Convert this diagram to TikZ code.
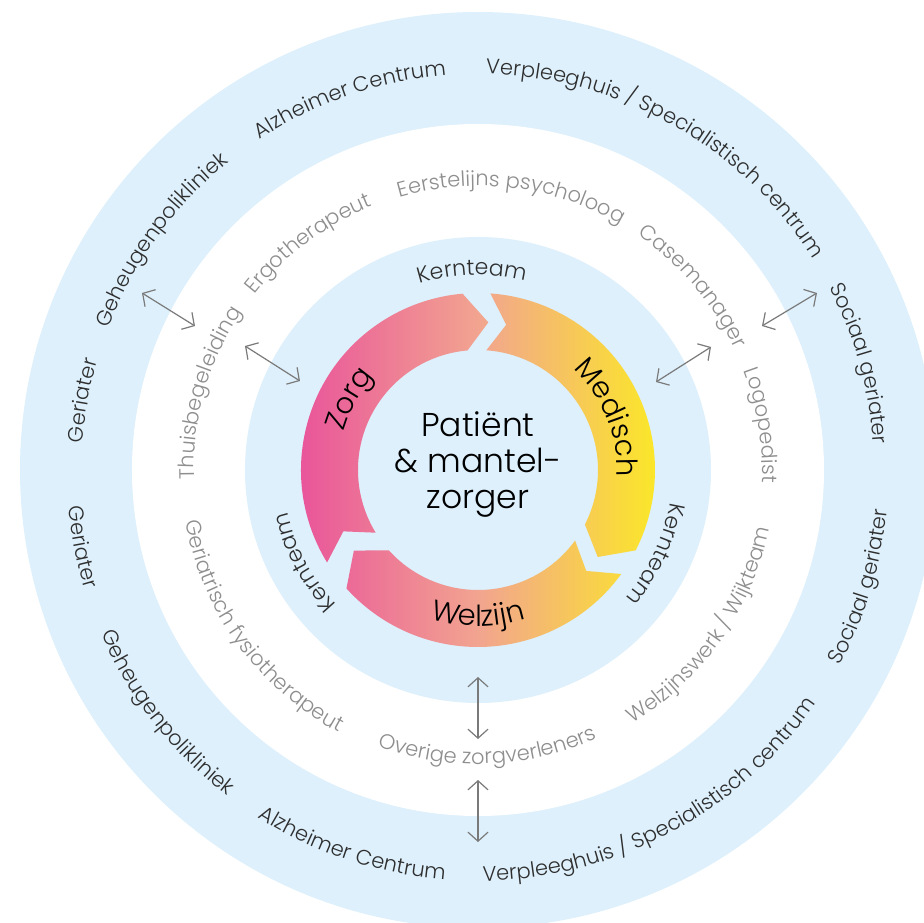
\documentclass[tikz,border=0pt]{standalone}
\usepackage{fontspec}
\setmainfont{Poppins Light}
\usetikzlibrary{arrows.meta,decorations.text}

\definecolor{ringblue}{HTML}{DDF0FC}
\definecolor{labeldark}{HTML}{2E2E2E}
\definecolor{labelgray}{HTML}{8E8E8E}
\definecolor{linegray}{HTML}{7A7A7A}
\definecolor{zorgpink}{HTML}{E9559A}
\definecolor{midsalmon}{HTML}{F2A490}
\definecolor{medischgeel}{HTML}{FBE729}

\newcommand{\ringfont}{\fontsize{21}{24}\selectfont}
\newcommand{\middenfont}{\fontsize{21}{24}\selectfont}
\newcommand{\kernfont}{\fontsize{22}{25}\selectfont}
\newcommand{\pijlfont}{\fontsize{29}{32}\selectfont}

% tekst langs cirkel: font, kleur, hoek, straal, tekst
\newcommand{\cwlabel}[5]{\path[decorate,decoration={text along path,text align=center,text color=#2,text={|#1|#5}}]
    (#3+60:#4) arc[start angle=#3+60,end angle=#3-60,radius=#4];}
\newcommand{\ccwlabel}[5]{\path[decorate,decoration={text along path,text align=center,text color=#2,text={|#1|#5}}]
    (#3-60:#4) arc[start angle=#3-60,end angle=#3+60,radius=#4];}
% pijl in de ring: van hoek #1 naar hoek #2 (met de klok mee)
\newcommand{\ringpijl}[2]{(#1:177) arc[start angle=#1,end angle=#2,radius=177] -- (#2-9:148) -- (#2:120)
    arc[start angle=#2,end angle=#1,radius=120] -- (#1-7:148) -- cycle}

\begin{document}
\begin{tikzpicture}[x=1pt,y=1pt,
    connector/.style={line width=1.2pt,draw=linegray,
        {Straight Barb[length=9pt,width=20pt]}-{Straight Barb[length=9pt,width=20pt]}}]
    \useasboundingbox (-478,-453) rectangle (446,470);
    \clip (-478,-453) rectangle (446,470);

    % ringen
    \fill[ringblue] (0,0) circle[radius=458];
    \fill[white] (0,0) circle[radius=346];
    \fill[ringblue] (0,0) circle[radius=233];

    % drie pijlen met kleurverloop
    \begin{scope}
        \clip \ringpijl{211.5}{95} \ringpijl{86}{-27} \ringpijl{-36}{-138};
        \shade[left color=zorgpink,right color=medischgeel,middle color=midsalmon] (-178,-178) rectangle (178,178);
    \end{scope}

    \node[align=center,font=\fontsize{33}{36}\selectfont,text=black] (patient) at (0,5) {Patiënt\\\& mantel-\\zorger};

    \cwlabel{\pijlfont}{black}{151}{140}{Zorg}
    \cwlabel{\pijlfont}{black}{22}{139}{Medisch}
    \ccwlabel{\pijlfont}{black}{270}{156}{Welzijn}

    % kernteam
    \cwlabel{\kernfont}{labeldark}{91.7}{195}{Kernteam}
    \cwlabel{\kernfont}{labeldark}{-25.3}{195}{Kernteam}
    \cwlabel{\kernfont}{labeldark}{208}{195}{Kernteam}

    % overige zorgverleners (witte ring)
    \cwlabel{\middenfont}{labelgray}{164}{284}{Thuisbegeleiding}
    \cwlabel{\middenfont}{labelgray}{126.8}{284}{Ergotherapeut}
    \cwlabel{\middenfont}{labelgray}{83}{284}{Eerstelijns psycholoog}
    \cwlabel{\middenfont}{labelgray}{40.5}{284}{Casemanager}
    \cwlabel{\middenfont}{labelgray}{9}{284}{Logopedist}
    \ccwlabel{\middenfont}{labelgray}{216}{297}{Geriatrisch fysiotherapeut}
    \ccwlabel{\middenfont}{labelgray}{272}{294}{Overige zorgverleners}
    \ccwlabel{\middenfont}{labelgray}{325}{297}{Welzijnswerk / Wijkteam}

    % buitenste ring
    \cwlabel{\ringfont}{labeldark}{170}{396}{Geriater}
    \cwlabel{\ringfont}{labeldark}{144}{396}{Geheugenpolikliniek}
    \cwlabel{\ringfont}{labeldark}{109}{396}{Alzheimer Centrum}
    \cwlabel{\ringfont}{labeldark}{60.5}{396}{Verpleeghuis / Specialistisch centrum}
    \cwlabel{\ringfont}{labeldark}{15.6}{396}{Sociaal geriater}
    \ccwlabel{\ringfont}{labeldark}{191}{411}{Geriater}
    \ccwlabel{\ringfont}{labeldark}{218}{411}{Geheugenpolikliniek}
    \ccwlabel{\ringfont}{labeldark}{251.5}{411}{Alzheimer Centrum}
    \ccwlabel{\ringfont}{labeldark}{298}{411}{Verpleeghuis / Specialistisch centrum}
    \ccwlabel{\ringfont}{labeldark}{343}{411}{Sociaal geriater}

    % dubbele pijlen
    \coordinate (nwBuitenA) at (-336,177);
    \coordinate (nwBuitenB) at (-283,144);
    \coordinate (nwBinnenA) at (-233,124);
    \coordinate (nwBinnenB) at (-178,89);
    \coordinate (noBuitenA) at (339,177);
    \coordinate (noBuitenB) at (284,144);
    \coordinate (noBinnenA) at (233,123);
    \coordinate (noBinnenB) at (178,88);
    \coordinate (zBinnenA) at (0,-207);
    \coordinate (zBinnenB) at (0,-269);
    \coordinate (zBuitenA) at (0,-310);
    \coordinate (zBuitenB) at (0,-372);
    \draw[connector] (nwBuitenA) -- (nwBuitenB);
    \draw[connector] (nwBinnenA) -- (nwBinnenB);
    \draw[connector] (noBuitenA) -- (noBuitenB);
    \draw[connector] (noBinnenA) -- (noBinnenB);
    \draw[connector] (zBinnenA) -- (zBinnenB);
    \draw[connector] (zBuitenA) -- (zBuitenB);
\end{tikzpicture}
\end{document}
